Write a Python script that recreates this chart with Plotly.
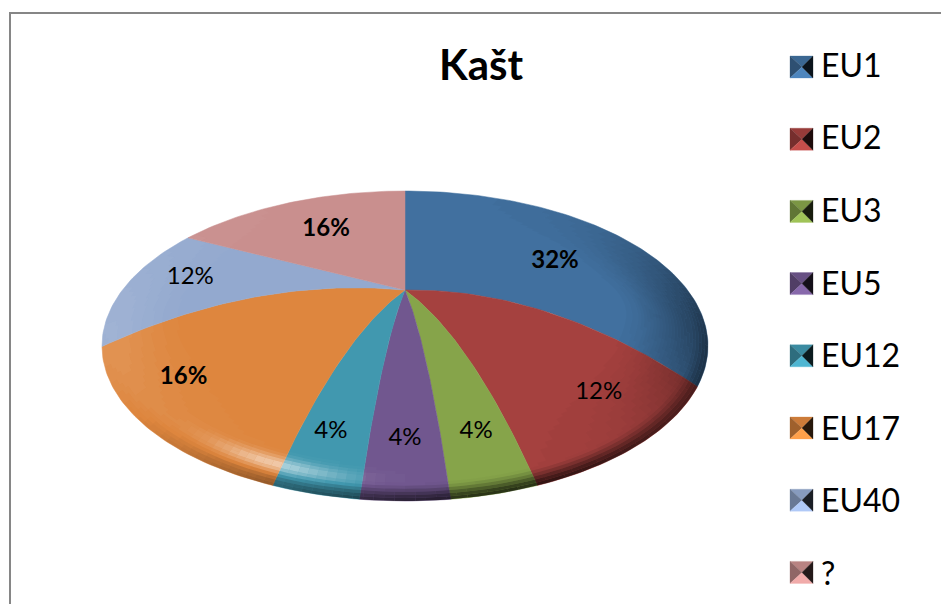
import math
import plotly.graph_objects as go

CATEGORIES = ["EU1", "EU2", "EU3", "EU5", "EU12", "EU17", "EU40", "?"]
VALUES = [32, 12, 4, 4, 4, 16, 12, 16]
COLORS = ["#41709F", "#A5413F", "#86A44A", "#71578F", "#4198AF", "#DE863E", "#93A9CF", "#C98F8E"]
LABEL_RADII = [0.66, 0.78, 0.80, 0.80, 0.80, 0.84, 0.72, 0.60]
LABEL_NUDGE_X = [-1, 10, -1, 0, -2, -3, -13, -11]
LABEL_NUDGE_Y = [2, 0, -5, -4, -5, -12, -6, -7]

W, H = 941, 604
AX, AY = 405, 290          # pie apex on the page
CX, CY, RX, RY = 405, 346, 303, 155   # outline ellipse
FONT = "Lato"


def warp(theta):
    """Foreshortening of a pie angle (degrees, clockwise from top)."""
    h = math.radians(theta) / 2
    phi = math.degrees(2 * math.atan2(0.83 * math.sin(h), math.cos(h)))
    if 259.2 < theta < 360:
        phi += 3.5 * math.sin(math.pi * (theta - 259.2) / 100.8) ** 2
    return phi


def project(t, phi):
    a = math.radians(phi)
    ex, ey = CX + RX * math.sin(a), CY - RY * math.cos(a)
    w = min(1, max(0, (0.5 - math.cos(a)) / 0.6))
    return AX + t * (ex - AX), AY + t * (ey - AY) - 100 * t * (1 - t) * w


def smooth(a, b, x):
    u = min(1, max(0, (x - a) / (b - a)))
    return u * u * (3 - 2 * u)


def shade(t, phi):
    s = -0.7 * math.exp(-((phi - 160) / 55) ** 2) * smooth(0.94, 1, t)
    s -= 0.4 * math.exp(-((phi - 85) / 35) ** 2) * smooth(0.7, 1, t)
    s += 0.12 * math.exp(-((phi - 272) / 38) ** 2) * smooth(0.7, 1, t)
    s += 0.55 * math.exp(-((phi - 207) / 14) ** 2) * math.exp(-((t - 0.93) / 0.025) ** 2)
    return s


fig = go.Figure()

# slices
total = sum(VALUES)
mids = []
cum = 0
for name, val, col in zip(CATEGORIES, VALUES, COLORS):
    a, b = 360 * cum / total, 360 * (cum + val) / total
    mids.append((a + b) / 2)
    cum += val
    n = max(2, int((b - a) / 1.0))
    xs, ys = [], []
    for i in range(41):
        px, py = project(i / 40, warp(a))
        xs.append(px); ys.append(py)
    for i in range(1, n + 1):
        px, py = project(1, warp(a + (b - a) * i / n))
        xs.append(px); ys.append(py)
    for i in range(40, -1, -1):
        px, py = project(i / 40, warp(b))
        xs.append(px); ys.append(py)
    fig.add_trace(go.Scatter(x=xs, y=ys, mode="lines", fill="toself", fillcolor=col,
                             line=dict(color=col, width=0.5), showlegend=False,
                             name=name, hoverinfo="skip"))

# bevel shading, grouped by quantised strength
STEP = 0.02
rings = [0.70 + 0.01 * i for i in range(31)]
levels = {}
for r0, r1 in zip(rings, rings[1:]):
    for k in range(0, 360, 2):
        p0, p1 = k, k + 2
        s = shade((r0 + r1) / 2, (p0 + p1) / 2)
        q = round(s / STEP)
        if q == 0:
            continue
        c = [project(r0, p0), project(r1, p0), project(r1, p1), project(r0, p1), project(r0, p0)]
        lx, ly = levels.setdefault(q, ([], []))
        lx.extend([round(p[0], 1) for p in c] + [None])
        ly.extend([round(p[1], 1) for p in c] + [None])
for q, (lx, ly) in sorted(levels.items()):
    rgb = "255,255,255" if q > 0 else "0,0,0"
    fig.add_trace(go.Scatter(x=lx, y=ly, mode="lines", fill="toself", line=dict(width=0),
                             fillcolor=f"rgba({rgb},{abs(q) * STEP:.2f})",
                             showlegend=False, hoverinfo="skip"))

# data labels
lab_x, lab_y, lab_t = [], [], []
for val, mid, rad, nx, ny in zip(VALUES, mids, LABEL_RADII, LABEL_NUDGE_X, LABEL_NUDGE_Y):
    px, py = project(rad, warp(mid))
    lab_x.append(px + nx); lab_y.append(py + ny)
    pct = round(100 * val / total)
    lab_t.append(f"<b>{pct}%</b>" if pct >= 16 else f"{pct}%")
fig.add_trace(go.Scatter(x=lab_x, y=lab_y, text=lab_t, mode="text", textposition="middle center",
                         textfont=dict(family=FONT, size=24, color="#000000"),
                         showlegend=False, hoverinfo="skip"))


def tone(col, f):
    r, g, b = (int(col[i:i + 2], 16) for i in (1, 3, 5))
    return "#%02x%02x%02x" % tuple(min(255, int(v * f)) for v in (r, g, b))


# legend keys and entries
for i, (name, col) in enumerate(zip(CATEGORIES, COLORS)):
    top = 56 + 72.2 * i
    l, r, t, bt = 790, 813, top, top + 22
    mx, my = 802, top + 11
    tris = [
        ([l, r, mx, l], [t, t, my, t], tone(col, 0.92)),
        ([l, mx, l, l], [t, my, bt, t], tone(col, 0.72)),
        ([l, r, mx, l], [bt, bt, my, bt], tone(col, 1.2)),
        ([r, mx, r, r], [t, my, bt, t], tone(col, 0.18)),
    ]
    for tx, ty, tc in tris:
        fig.add_trace(go.Scatter(x=tx, y=ty, mode="lines", fill="toself", fillcolor=tc,
                                 line=dict(color=tc, width=0.3), showlegend=False,
                                 hoverinfo="skip"))
    fig.add_trace(go.Scatter(x=[None], y=[None], mode="lines", name=name, legendgroup=name,
                             line=dict(color="rgba(0,0,0,0)", width=1)))

fig.update_layout(
    width=W, height=H, autosize=False,
    margin=dict(l=0, r=0, t=0, b=0),
    paper_bgcolor="#ffffff", plot_bgcolor="#ffffff",
    xaxis=dict(range=[0, W], visible=False, fixedrange=True),
    yaxis=dict(range=[H, 0], visible=False, fixedrange=True),
    title=dict(text="<b>Kašt</b>", x=481 / W, xanchor="center", y=1 - 65 / H, yanchor="middle",
               font=dict(family=FONT, size=42, color="#000000")),
    legend=dict(x=778 / W, y=1 - 34 / H, xanchor="left", yanchor="top",
                font=dict(family=FONT, size=32, color="#000000"),
                bgcolor="rgba(0,0,0,0)", bordercolor="rgba(0,0,0,0)", borderwidth=3,
                tracegroupgap=28, itemwidth=30, itemclick=False, itemdoubleclick=False),
    shapes=[dict(type="rect", xref="x", yref="y", x0=10, y0=13, x1=W + 20, y1=H + 20,
                 line=dict(color="#868686", width=2), layer="below")],
)

fig.write_html("out.html", config={"displayModeBar": False},
               post_script="document.body.style.margin='0';document.documentElement.style.overflow='hidden';")
